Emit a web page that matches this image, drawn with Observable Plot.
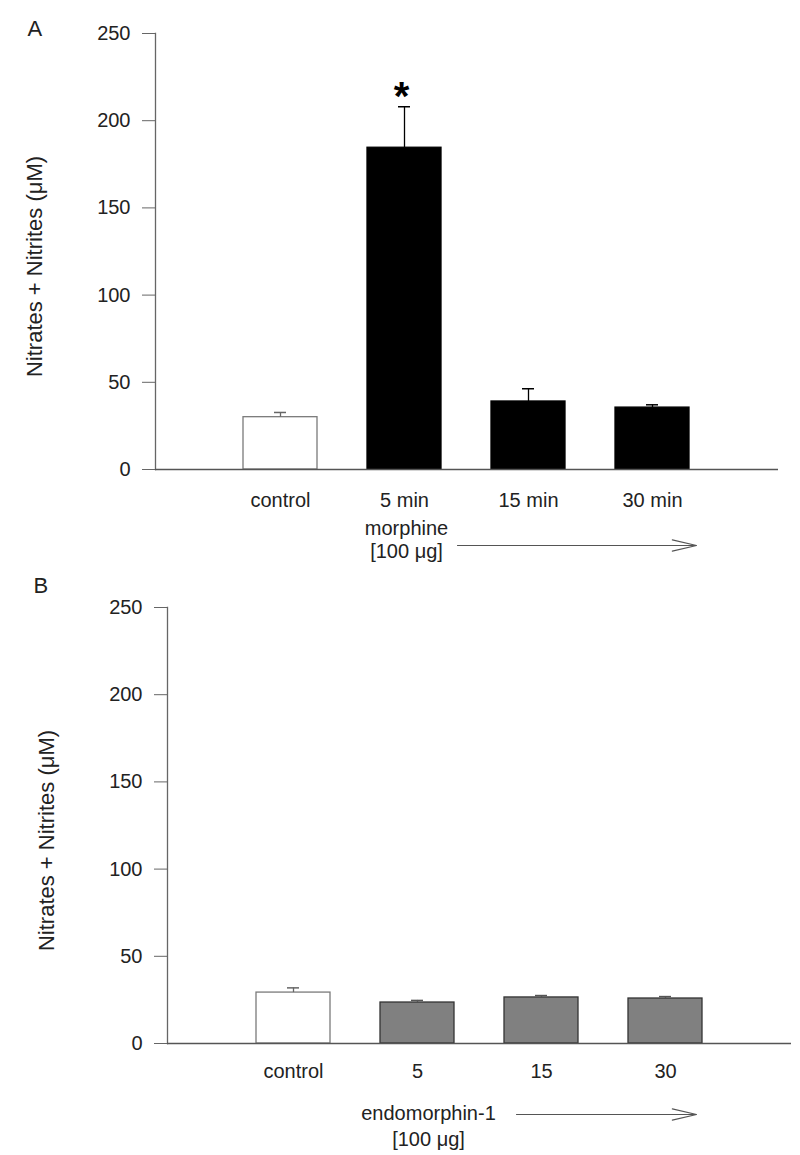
<!DOCTYPE html>
<html>
<head>
<meta charset="utf-8">
<script src="https://cdn.jsdelivr.net/npm/d3@7"></script>
<script src="https://cdn.jsdelivr.net/npm/@observablehq/plot@0.6"></script>
<style>
  body { margin: 0; background: #fff; }
  #chart { width: 800px; height: 1155px; position: relative; background: #fff; }
  #chart svg { display: block; }
</style>
</head>
<body>
<div id="chart"></div>
<script>
// ---- Data ----
const yTicks = [0, 50, 100, 150, 200, 250];
const yLabel = "Nitrates + Nitrites (\u03BCM)";

// Panel A: morphine
const catsA = ["control", "5 min", "15 min", "30 min"];
const meansA = [30.0, 184.5, 39.0, 35.5];
const semsA = [2.7, 23.5, 7.3, 1.6];
const groupsA = ["control", "morphine", "morphine", "morphine"];
const sigA = ["", "*", "", ""];
const drugA = "morphine";

// Panel B: endomorphin-1
const catsB = ["control", "5", "15", "30"];
const meansB = [29.2, 23.5, 26.4, 25.8];
const semsB = [2.7, 1.2, 1.1, 1.1];
const groupsB = ["control", "endomorphin-1", "endomorphin-1", "endomorphin-1"];
const sigB = ["", "", "", ""];
const drugB = "endomorphin-1";

const dose = "[100 \u03BCg]";

// ---- Styles ----
const fillFor = g => g === "control" ? "#ffffff" : (g === "morphine" ? "#000000" : "#808080");
const strokeFor = g => g === "control" ? "#7a7a7a" : (g === "morphine" ? "#000000" : "#333333");
const errFor = g => g === "control" ? "#666666" : (g === "morphine" ? "#000000" : "#555555");

function makePanel(o) {
  const data = o.cats.map((c, i) => ({cat: c, mean: o.means[i], sem: o.sems[i], group: o.groups[i], sig: o.sig[i]}));
  const plot = Plot.plot({
    width: 800,
    height: o.height,
    marginLeft: o.ml,
    marginRight: o.mr,
    marginTop: o.mt,
    marginBottom: o.mb,
    style: {fontFamily: "'Liberation Sans', Arial, Helvetica, sans-serif", fontSize: "20px", color: "#222", background: "#fff", overflow: "visible"},
    x: {type: "band", domain: o.cats, paddingInner: 0.4, paddingOuter: 0.7, label: null},
    y: {domain: [0, 250], label: null},
    marks: [
      Plot.barY(data, {x: "cat", y: "mean", fill: d => fillFor(d.group), stroke: d => strokeFor(d.group), strokeWidth: 1.3}),
      Plot.ruleX(data, {x: "cat", y1: "mean", y2: d => d.mean + d.sem, stroke: d => errFor(d.group), strokeWidth: 1.3}),
      Plot.tickY(data, {x: "cat", y: d => d.mean + d.sem, inset: 31, stroke: d => errFor(d.group), strokeWidth: 1.5}),
      Plot.text(data, {x: "cat", y: d => d.mean + d.sem, text: "sig", fontSize: 40, fontWeight: "bold", lineAnchor: "bottom", dy: 3, dx: -3, fill: "#000"}),
      Plot.frame({anchor: "left", stroke: "#666", strokeWidth: 1.3}),
      Plot.ruleY([0], {stroke: "#555", strokeWidth: 1.6}),
      Plot.axisY({ticks: yTicks, tickSize: 13, tickPadding: 12, stroke: "#666", fill: "#222", label: null, tickFormat: d => String(d)}),
      Plot.axisX({tickSize: 0, tickPadding: o.xPad, fill: "#222", label: null}),
      Plot.text([yLabel], {frameAnchor: "left", textAnchor: "middle", rotate: -90, dx: -121, dy: 15, fontSize: 22, fill: "#222", ariaLabel: "ylabel"}),
      Plot.text([o.letter], {frameAnchor: "top-left", dx: o.letterDx, dy: o.letterDy, textAnchor: "start", lineAnchor: "bottom", fontSize: 22, fill: "#222"}),
      Plot.text([{cat: o.cats[1], label: o.drug + "\n" + dose}], {x: "cat", text: "label", frameAnchor: "bottom", dy: o.noteDy, dx: o.noteDx, lineAnchor: "bottom", lineHeight: o.noteLH, fill: "#222"}),
      Plot.arrow([{from: o.cats[1], to: o.cats[3]}], {x1: "from", x2: "to", y1: () => 0, y2: () => 0, dy: o.arrowDy, insetStart: o.arrowStart, insetEnd: o.arrowEnd, headAngle: 26, headLength: 31, stroke: "#555", strokeWidth: 1.2})
    ]
  });
  d3.select(plot).selectAll("[aria-label=ylabel] text").attr("letter-spacing", "0.9px");
  return plot;
}

const chart = document.getElementById("chart");
chart.appendChild(makePanel({
  cats: catsA, means: meansA, sems: semsA, groups: groupsA, sig: sigA, drug: drugA, letter: "A",
  height: 575, ml: 155, mr: 22, mt: 33, mb: 106, xPad: 23,
  letterDx: -128, letterDy: 2,
  noteDy: 88, noteDx: 2, noteLH: 1.15,
  arrowDy: 76, arrowStart: 53, arrowEnd: -44
}));
chart.appendChild(makePanel({
  cats: catsB, means: meansB, sems: semsB, groups: groupsB, sig: sigB, drug: drugB, letter: "B",
  height: 580, ml: 167, mr: 9, mt: 32, mb: 112, xPad: 20,
  letterDx: -134, letterDy: -15,
  noteDy: 102, noteDx: 11, noteLH: 1.3,
  arrowDy: 71, arrowStart: 99, arrowEnd: -31
}));
</script>
</body>
</html>
